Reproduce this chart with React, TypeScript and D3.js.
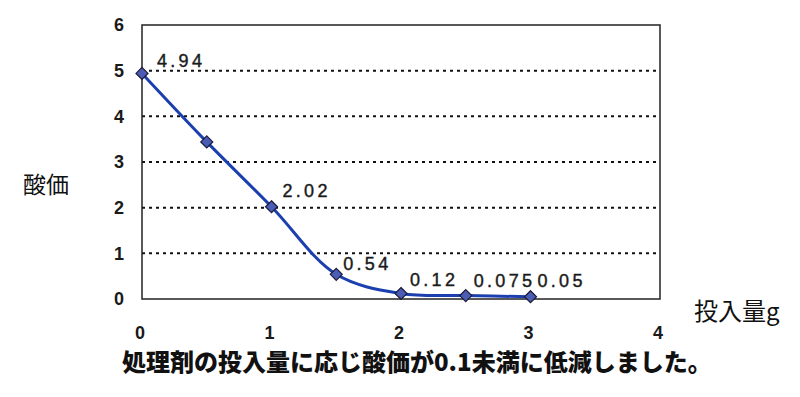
import React from "react";
import * as d3 from "d3";

const doses = [0, 0.5, 1, 1.5, 2, 2.5, 3];
const acidValues = [4.94, 3.44, 2.02, 0.54, 0.12, 0.075, 0.05];
const pointLabels = ["4.94", "", "2.02", "0.54", "0.12", "0.075", "0.05"];
const xTicks = [0, 1, 2, 3, 4];
const yTicks = [0, 1, 2, 3, 4, 5, 6];
const yTitle = "酸価";
const xTitle = "投入量g";
const caption = "処理剤の投入量に応じ酸価が0.1未満に低減しました。";

const W = 800;
const H = 397;
const plot = { left: 142, right: 660, top: 25, bottom: 299 };

export default function App() {
  const x = d3.scaleLinear().domain([0, 4]).range([plot.left, plot.right]);
  const y = d3.scaleLinear().domain([0, 6]).range([plot.bottom, plot.top]);
  const data = doses.map((d, i) => ({ x: d, y: acidValues[i], label: pointLabels[i] }));
  const line = d3
    .line<{ x: number; y: number }>()
    .x((d) => x(d.x))
    .y((d) => y(d.y))
    .curve(d3.curveCatmullRom.alpha(0.5));
  const sans = "'Liberation Sans', Arial, sans-serif";
  const cjk = "'Noto Sans CJK JP', sans-serif";
  const diamond = (cx: number, cy: number, r: number) =>
    `M${cx},${cy - r}L${cx + r},${cy}L${cx},${cy + r}L${cx - r},${cy}Z`;
  const labelDx = [15, 0, 11, 7, 9, 8, 7];
  const labelDy = [-6, 0, -10, -4, -8, -9, -10];

  return (
    <svg
      width={W}
      height={H}
      style={{ position: "absolute", left: 0, top: 0, background: "#fff" }}
    >
      <rect x={0} y={0} width={W} height={H} fill="#fff" />
      {yTicks
        .filter((t) => t > 0 && t < 6)
        .map((t) => (
          <line
            key={"g" + t}
            x1={plot.left}
            x2={plot.right}
            y1={y(t)}
            y2={y(t)}
            stroke="#111"
            strokeWidth={2}
            strokeDasharray="3,4"
          />
        ))}
      <rect
        x={plot.left}
        y={plot.top}
        width={plot.right - plot.left}
        height={plot.bottom - plot.top}
        fill="none"
        stroke="#222"
        strokeWidth={1.5}
      />
      {yTicks.map((t) => (
        <text
          key={"y" + t}
          x={plot.left - 18}
          y={y(t)}
          dy="0.36em"
          textAnchor="end"
          fontFamily={sans}
          fontSize={18}
          fontWeight="bold"
          fill="#1a1a1a"
        >
          {t}
        </text>
      ))}
      {xTicks.map((t) => (
        <text
          key={"x" + t}
          x={x(t) - 2}
          y={333}
          dy="0.36em"
          textAnchor="middle"
          fontFamily={sans}
          fontSize={18}
          fontWeight="bold"
          fill="#1a1a1a"
        >
          {t}
        </text>
      ))}
      <path d={line(data) || ""} fill="none" stroke="#1b3fae" strokeWidth={3} />
      {data.map((d, i) => (
        <path
          key={"m" + i}
          d={diamond(x(d.x), y(d.y), 6)}
          fill="#4b5cb4"
          stroke="#1a1a3a"
          strokeWidth={1.2}
        />
      ))}
      {data.map((d, i) =>
        d.label ? (
          <text
            key={"l" + i}
            x={x(d.x) + labelDx[i]}
            y={y(d.y) + labelDy[i]}
            fontFamily={sans}
            fontSize={18}
            letterSpacing={3.3}
            stroke="#1a1a1a"
            strokeWidth={0.4}
            fill="#1a1a1a"
          >
            {d.label}
          </text>
        ) : null
      )}
      <text x={23} y={185} dy="0.36em" fontFamily={cjk} fontSize={23} fill="#111">
        {yTitle}
      </text>
      <text x={694} y={311} dy="0.36em" fontFamily={cjk} fontSize={24} fill="#111">
        {xTitle}
      </text>
      <text
        x={122}
        y={362}
        dy="0.36em"
        fontFamily={cjk}
        fontSize={24}
        fontWeight={900}
        fill="#111"
      >
        {caption}
      </text>
    </svg>
  );
}
